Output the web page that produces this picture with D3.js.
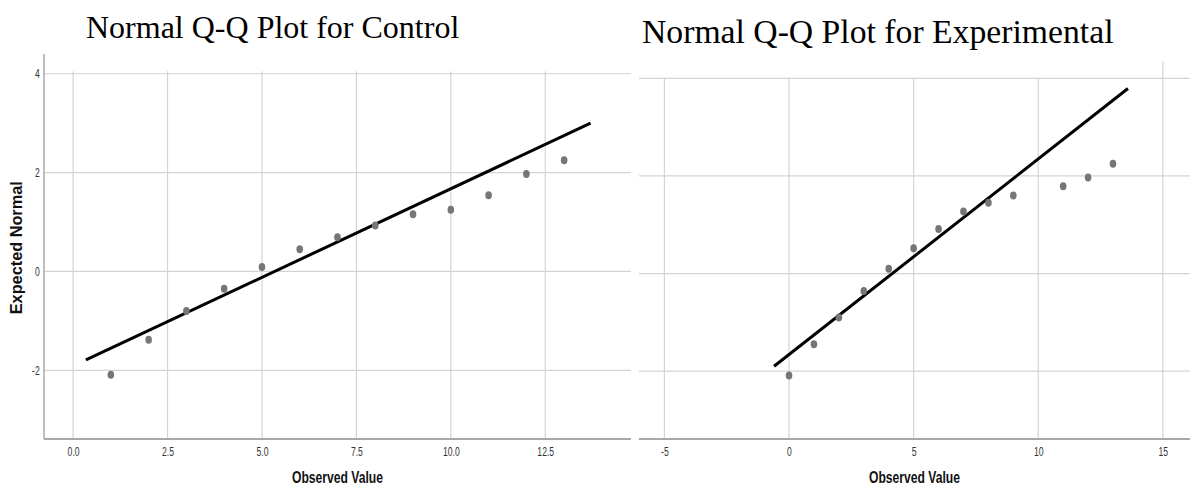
<!DOCTYPE html>
<html>
<head>
<meta charset="utf-8">
<script src="https://cdn.jsdelivr.net/npm/d3@7"></script>
<style>
  html, body { margin: 0; padding: 0; background: #fff; }
  svg { display: block; }
  .title { font-family: "Liberation Serif", "Times New Roman", serif; fill: #000; }
  .tick-label { font-family: "Liberation Sans", Arial, sans-serif; font-size: 12px; fill: #333; }
  .axis-title { font-family: "Liberation Sans", Arial, sans-serif; font-weight: bold; fill: #111; }
</style>
</head>
<body>
<div id="chart"></div>
<script>
var controlObserved = [1, 2, 3, 4, 5, 6, 7, 8, 9, 10, 11, 12, 13];
var controlExpected = [-2.09, -1.38, -0.80, -0.35, 0.09, 0.45, 0.69, 0.93, 1.16, 1.25, 1.54, 1.97, 2.25];
var controlLineX = [0.34, 13.7];
var controlLineY = [-1.79, 3.0];

var experimentalObserved = [0, 1, 2, 3, 4, 5, 6, 7, 8, 9, 11, 12, 13];
var experimentalExpected = [-2.09, -1.45, -0.90, -0.36, 0.10, 0.52, 0.91, 1.27, 1.45, 1.60, 1.79, 1.97, 2.25];
var experimentalLineX = [-0.6, 13.6];
var experimentalLineY = [-1.90, 3.79];

var controlXTicks = [0, 2.5, 5, 7.5, 10, 12.5];
var experimentalXTicks = [-5, 0, 5, 10, 15];
var yTicks = [-2, 0, 2, 4];

var W = 1190, H = 491;

var svg = d3.select("#chart").append("svg")
  .attr("width", W)
  .attr("height", H);

// plain hyphen for negatives, like the original output
function fmt(spec) {
  var f = d3.format(spec);
  return function(d) { return f(d).replace("\u2212", "-"); };
}

// draws one Q-Q panel
function drawPanel(opt) {
  var x = d3.scaleLinear().domain(opt.xDomain).range([opt.left, opt.right]);
  var y = d3.scaleLinear().domain(opt.yDomain).range([opt.bottom, opt.top]);
  var g = svg.append("g");

  // horizontal grid lines
  g.selectAll(".hgrid")
    .data(yTicks)
    .enter().append("line")
    .attr("x1", opt.left)
    .attr("x2", opt.right)
    .attr("y1", function(d) { return y(d); })
    .attr("y2", function(d) { return y(d); })
    .attr("stroke", "#d4d4d4")
    .attr("stroke-width", 1.2);

  // vertical grid lines
  g.selectAll(".vgrid")
    .data(opt.xTicks)
    .enter().append("line")
    .attr("x1", function(d) { return x(d); })
    .attr("x2", function(d) { return x(d); })
    .attr("y1", function(d, i) { return y(opt.gridTop(d, i)); })
    .attr("y2", opt.bottom)
    .attr("stroke", "#d4d4d4")
    .attr("stroke-width", 1.2);

  // x axis (labels only, the line is drawn below)
  var xAxis = d3.axisBottom(x)
    .tickValues(opt.xTicks)
    .tickSize(0)
    .tickPadding(8)
    .tickFormat(opt.xFormat);
  var ax = g.append("g")
    .attr("transform", "translate(0," + opt.bottom + ")")
    .call(xAxis);
  ax.select(".domain").remove();
  ax.attr("font-size", null).attr("font-family", null);
  ax.selectAll("text")
    .attr("class", "tick-label")
    .attr("transform", "scale(0.72,1)");

  g.append("line")
    .attr("x1", opt.left)
    .attr("x2", opt.right)
    .attr("y1", opt.bottom)
    .attr("y2", opt.bottom)
    .attr("stroke", "#a8a8a8")
    .attr("stroke-width", 2);

  if (opt.showYAxis) {
    var yAxis = d3.axisLeft(y)
      .tickValues(yTicks)
      .tickSize(0)
      .tickPadding(6)
      .tickFormat(fmt("d"));
    var ay = g.append("g")
      .attr("transform", "translate(" + opt.left + ",0)")
      .call(yAxis);
    ay.select(".domain").remove();
    ay.attr("font-size", null).attr("font-family", null);
    ay.selectAll("text")
      .attr("class", "tick-label")
      .attr("transform", "scale(0.72,1)");

    g.append("line")
      .attr("x1", opt.left)
      .attr("x2", opt.left)
      .attr("y1", opt.top)
      .attr("y2", opt.bottom)
      .attr("stroke", "#a8a8a8")
      .attr("stroke-width", 1.5);

    g.append("text")
      .attr("class", "axis-title")
      .style("font-size", "16px")
      .attr("text-anchor", "middle")
      .attr("transform", "translate(22," + y(0.48) + ") rotate(-90)")
      .attr("textLength", 133)
      .attr("lengthAdjust", "spacingAndGlyphs")
      .text("Expected Normal");
  }

  // reference line
  var line = d3.line()
    .x(function(d) { return x(d[0]); })
    .y(function(d) { return y(d[1]); });
  g.append("path")
    .datum(d3.zip(opt.lineX, opt.lineY))
    .attr("d", line)
    .attr("fill", "none")
    .attr("stroke", "#000")
    .attr("stroke-width", 3);

  // points
  g.selectAll(".pt")
    .data(d3.zip(opt.observed, opt.expected))
    .enter().append("ellipse")
    .attr("cx", function(d) { return x(d[0]); })
    .attr("cy", function(d) { return y(d[1]); })
    .attr("rx", 3.3)
    .attr("ry", 4)
    .attr("fill", "#767676");

  // titles
  g.append("text")
    .attr("class", "axis-title")
    .style("font-size", "16.5px")
    .attr("text-anchor", "middle")
    .attr("x", (opt.left + opt.right) / 2)
    .attr("y", 483)
    .attr("textLength", 91)
    .attr("lengthAdjust", "spacingAndGlyphs")
    .text("Observed Value");

  g.append("text")
    .attr("class", "title")
    .attr("font-size", opt.titleSize)
    .attr("text-anchor", "start")
    .attr("x", opt.titleX)
    .attr("y", opt.titleY)
    .text(opt.title);
}

drawPanel({
  title: "Normal Q-Q Plot for Control",
  titleX: 86, titleY: 38, titleSize: 32,
  observed: controlObserved,
  expected: controlExpected,
  lineX: controlLineX,
  lineY: controlLineY,
  xTicks: controlXTicks,
  xFormat: fmt(".1f"),
  xDomain: [-0.77, 14.77],
  yDomain: [-3.39, 4.4],
  left: 44, right: 631, top: 54, bottom: 439,
  gridTop: function() { return 4.05; },
  showYAxis: true
});

drawPanel({
  title: "Normal Q-Q Plot for Experimental",
  titleX: 642, titleY: 43, titleSize: 33.7,
  observed: experimentalObserved,
  expected: experimentalExpected,
  lineX: experimentalLineX,
  lineY: experimentalLineY,
  xTicks: experimentalXTicks,
  xFormat: fmt("d"),
  xDomain: [-6.02, 16.09],
  yDomain: [-3.39, 4.0],
  left: 639, right: 1190, top: 78.3, bottom: 439,
  gridTop: function(d) { return d === 15 ? 4.35 : 4.0; },
  showYAxis: false
});
</script>
</body>
</html>
